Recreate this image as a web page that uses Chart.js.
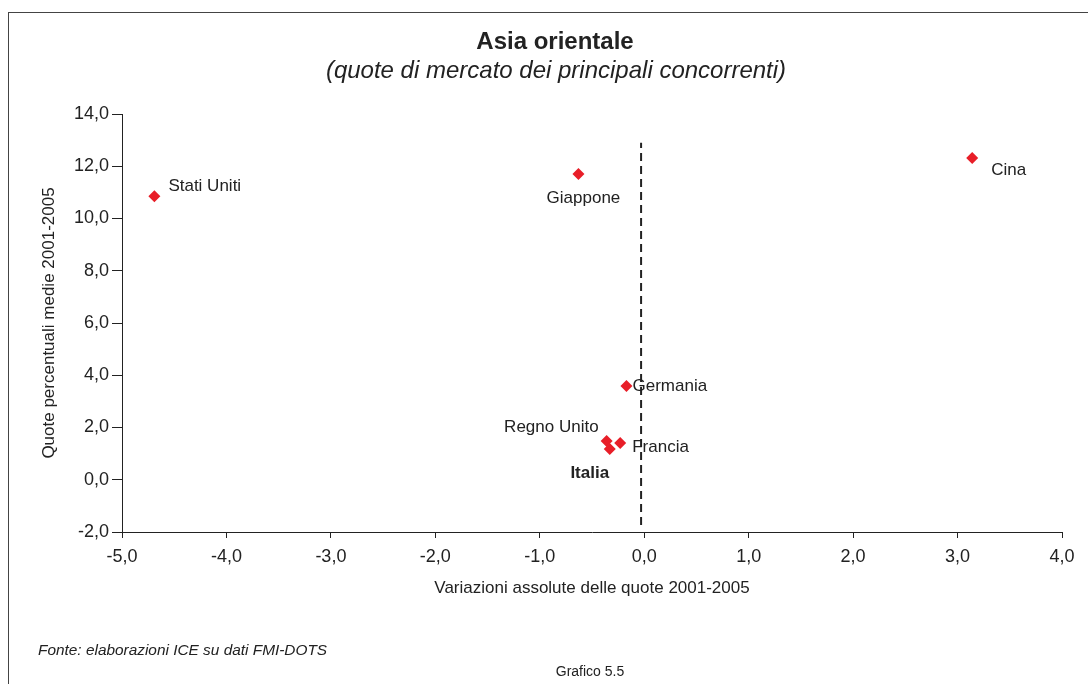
<!DOCTYPE html>
<html><head><meta charset="utf-8">
<script src="https://cdn.jsdelivr.net/npm/chart.js@4/dist/chart.umd.min.js"></script>
<style>
html,body{margin:0;padding:0;width:1088px;height:684px;overflow:hidden;background:#fff;font-family:"Liberation Sans",Arial,sans-serif;color:#222;}
#frame{position:absolute;left:8px;top:12px;width:1200px;height:800px;border:1.5px solid #444;box-sizing:border-box;}
#wrap{position:absolute;left:0;top:0;width:1088px;height:684px;}
.t{position:absolute;white-space:nowrap;transform:translate(-50%,-50%);line-height:1;}
.l{position:absolute;white-space:nowrap;transform:translate(0,-50%);line-height:1;}
</style></head><body>
<div id="frame"></div>
<div id="wrap"><canvas id="c" width="1088" height="684"></canvas></div>
<div class="t" style="left:555px;top:41px;font-weight:bold;font-size:24px">Asia orientale</div>
<div class="t" style="left:556px;top:70px;font-style:italic;font-size:24px">(quote di mercato dei principali concorrenti)</div>
<div class="l" style="left:38px;top:650px;font-style:italic;font-size:15.4px">Fonte: elaborazioni ICE su dati FMI-DOTS</div>
<div class="t" style="left:590px;top:671px;font-size:14px">Grafico 5.5</div>
<script>
// ---- data ----
const countries = ['Stati Uniti','Giappone','Cina','Germania','Regno Unito','Francia','Italia'];
const variazioni = [-4.69, -0.63, 3.14, -0.17, -0.36, -0.23, -0.33];
const quote = [10.85, 11.70, 12.32, 3.59, 1.48, 1.41, 1.18];
const refLineX = [-0.03, -0.03];
const refLineY = [-1.73, 12.9];
const xTickLabels = ['-5,0','-4,0','-3,0','-2,0','-1,0','0,0','1,0','2,0','3,0','4,0'];
const yTickLabels = ['-2,0','0,0','2,0','4,0','6,0','8,0','10,0','12,0','14,0'];

// ---- label placement (style, not data) ----
const labelStyle = [
  {dx:14, dy:-10, align:'left'},
  {dx:5, dy:24, align:'center'},
  {dx:19, dy:12, align:'left'},
  {dx:6, dy:0, align:'left'},
  {dx:-8, dy:-14, align:'right'},
  {dx:12, dy:4, align:'left'},
  {dx:-20, dy:24, align:'center', bold:true}
];

const FONT = '"Liberation Sans", Arial, sans-serif';

const pointLabels = {
  id:'pointLabels',
  afterDatasetsDraw(chart){
    const meta = chart.getDatasetMeta(0);
    const ctx = chart.ctx;
    ctx.save();
    ctx.fillStyle = '#222';
    ctx.textBaseline = 'middle';
    meta.data.forEach((pt, i) => {
      const s = labelStyle[i];
      ctx.font = (s.bold ? 'bold ' : '') + '17px ' + FONT;
      ctx.textAlign = s.align;
      ctx.fillText(countries[i], pt.x + s.dx, pt.y + s.dy);
    });
    ctx.restore();
  }
};

new Chart(document.getElementById('c'), {
  type: 'scatter',
  data: {
    datasets: [
      {
        data: countries.map((c, i) => ({x: variazioni[i], y: quote[i]})),
        pointStyle: 'rectRot',
        pointRadius: 6,
        pointHoverRadius: 6,
        backgroundColor: 'rgb(232,30,40)',
        borderColor: 'rgb(232,30,40)',
        borderWidth: 0,
        order: 1
      },
      {
        type: 'line',
        data: refLineX.map((x, i) => ({x: x, y: refLineY[i]})),
        borderColor: '#222',
        borderWidth: 2,
        borderDash: [8, 5],
        pointRadius: 0,
        fill: false,
        order: 2
      }
    ]
  },
  options: {
    responsive: false,
    animation: false,
    events: [],
    layout: {padding: {left: 30, top: 114, right: 26, bottom: 82}},
    plugins: {legend: {display: false}, tooltip: {enabled: false}, title: {display: false}},
    scales: {
      x: {
        type: 'linear',
        min: -5, max: 4,
        afterFit(s){ s.height = 70; },
        ticks: {
          stepSize: 1, padding: 8, color: '#222',
          font: {family: FONT, size: 18},
          callback: (v, i) => xTickLabels[i]
        },
        grid: {display: true, drawOnChartArea: false, tickLength: 6, color: '#222', tickWidth: 1},
        border: {display: true, color: '#222', width: 1},
        title: {display: true, text: 'Variazioni assolute delle quote 2001-2005', color: '#222',
                font: {family: FONT, size: 17}, padding: {top: 0, bottom: 3}}
      },
      y: {
        type: 'linear',
        min: -2, max: 14,
        afterFit(s){ s.width = 92; },
        ticks: {
          stepSize: 2, padding: 3, color: '#222',
          font: {family: FONT, size: 18},
          callback: (v, i) => yTickLabels[i]
        },
        grid: {display: true, drawOnChartArea: false, tickLength: 10, color: '#222', tickWidth: 1},
        border: {display: true, color: '#222', width: 1},
        title: {display: true, text: 'Quote percentuali medie 2001-2005', color: '#222',
                font: {family: FONT, size: 17}, padding: {top: 9, bottom: 0}}
      }
    }
  },
  plugins: [pointLabels]
});
</script>
</body></html>
